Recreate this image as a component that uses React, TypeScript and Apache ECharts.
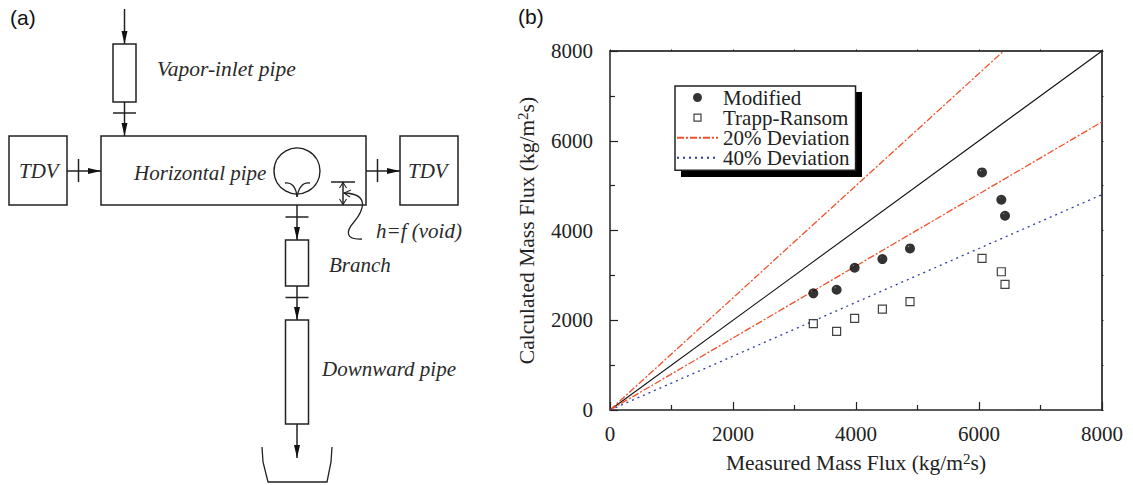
import React, { useEffect, useRef } from "react";
import * as echarts from "echarts";

const measuredModified = [3306, 3685, 3978, 4429, 4878, 6049, 6363, 6423];
const calculatedModified = [2600, 2680, 3170, 3363, 3600, 5294, 4685, 4328];
const measuredTrapp = [3306, 3685, 3978, 4429, 4878, 6049, 6363, 6423];
const calculatedTrapp = [1923, 1752, 2042, 2249, 2413, 3378, 3081, 2799];
const identityLine = [[0, 0], [8000, 8000]];
const upperDeviation = [[0, 0], [6400, 8000]];
const lowerDeviation = [[0, 0], [8000, 6420]];
const fortyDeviation = [[0, 0], [8000, 4800]];

const serif = "'Liberation Serif', serif";
const ink = "#222";

const zip = (a: number[], b: number[]) => a.map((v, i) => [v, b[i]]);

const arrow = (x: number, y: number, dir: "down" | "right") =>
  dir === "down"
    ? { type: "polygon", shape: { points: [[x - 3, y - 13], [x + 3, y - 13], [x, y]] }, style: { fill: "#111" } }
    : { type: "polygon", shape: { points: [[x - 13, y - 3], [x - 13, y + 3], [x, y]] }, style: { fill: "#111" } };
const ln = (x1: number, y1: number, x2: number, y2: number) => ({
  type: "line",
  shape: { x1, y1, x2, y2 },
  style: { stroke: "#222", lineWidth: 1.5 },
});
const box = (x: number, y: number, width: number, height: number) => ({
  type: "rect",
  shape: { x, y, width, height },
  style: { fill: "#fff", stroke: "#222", lineWidth: 1.5 },
});
const label = (x: number, y: number, text: string, fontSize = 21) => ({
  type: "text",
  x,
  y,
  style: { text, fill: "#2a2a2a", font: `italic ${fontSize}px ${serif}`, textVerticalAlign: "middle" },
});
const curve = (x1: number, y1: number, cpx1: number, cpy1: number, cpx2: number, cpy2: number, x2: number, y2: number) => ({
  type: "bezierCurve",
  shape: { x1, y1, cpx1, cpy1, cpx2, cpy2, x2, y2 },
  style: { stroke: "#222", lineWidth: 1.3, fill: "none" },
});

const diagram: any[] = [
  { type: "text", x: 10, y: 17, style: { text: "(a)", fill: "#111", font: "21px 'Liberation Sans', sans-serif", textVerticalAlign: "middle" } },
  { type: "text", x: 518, y: 16, style: { text: "(b)", fill: "#111", font: "21px 'Liberation Sans', sans-serif", textVerticalAlign: "middle" } },
  ln(124.5, 9, 124.5, 44), arrow(124.5, 44, "down"),
  box(113, 44, 23, 58),
  ln(124.5, 102, 124.5, 136), ln(113, 113, 136, 113), arrow(124.5, 136, "down"),
  box(101, 136, 265, 69),
  box(9, 136, 58, 69),
  box(400, 136, 58, 69),
  ln(67, 171, 101, 171), ln(78.5, 159, 78.5, 182), arrow(101, 171, "right"),
  ln(366, 171, 400, 171), ln(377.5, 159, 377.5, 182), arrow(400, 171, "right"),
  { type: "circle", shape: { cx: 297, cy: 171, r: 23 }, style: { fill: "none", stroke: "#222", lineWidth: 1.4 } },
  curve(285, 183, 291, 182, 296, 186, 297, 197),
  curve(310, 183, 304, 182, 299, 186, 297, 197),
  ln(331, 182, 355, 182),
  ln(343, 182, 343, 205),
  { type: "polyline", shape: { points: [[339.5, 188], [343, 182.5], [346.5, 188]] }, style: { stroke: "#222", lineWidth: 1.1, fill: "none" } },
  { type: "polyline", shape: { points: [[339.5, 199], [343, 204.5], [346.5, 199]] }, style: { stroke: "#222", lineWidth: 1.1, fill: "none" } },
  curve(344, 193, 372, 194, 362, 212, 354, 222),
  curve(354, 222, 345, 232, 346, 240, 362, 239),
  { type: "polyline", shape: { points: [[351, 190], [344, 193], [350, 197]] }, style: { stroke: "#222", lineWidth: 1.1, fill: "none" } },
  ln(297, 205, 297, 240), ln(285.5, 217, 308.5, 217), arrow(297, 240, "down"),
  box(285.5, 240, 23, 46),
  ln(297, 286, 297, 320), ln(285.5, 297.5, 308.5, 297.5), arrow(297, 320, "down"),
  box(285.5, 320, 23, 104),
  ln(297, 424, 297, 458), arrow(297, 458, "down"),
  { type: "polyline", shape: { points: [[262, 447], [263, 462], [268, 482], [327, 482], [331, 462], [332, 447]] }, style: { stroke: "#222", lineWidth: 1.3, fill: "none" } },
  label(157, 69, "Vapor-inlet pipe", 21.5),
  label(19, 171, "TDV"),
  label(134, 173, "Horizontal pipe"),
  label(408, 171, "TDV"),
  label(376, 231, "h=f (void)"),
  label(329, 265, "Branch"),
  label(322, 369, "Downward pipe"),
  { type: "rect", z: 3, shape: { x: 681, y: 92, width: 181, height: 85 }, style: { fill: "#000" } },
];

const ballIcon = "path://M0 0L0 0M41 20L41 20M25 10a4.5 4.5 0 1 0 -9 0a4.5 4.5 0 1 0 9 0Z";
const squareIcon = "path://M0 0L0 0M41 20L41 20M17 6.5H24V13.5H17Z";

export default function App() {
  const ref = useRef<HTMLDivElement>(null);
  useEffect(() => {
    const chart = echarts.init(ref.current!, undefined, { renderer: "svg" });
    const ball = new echarts.graphic.RadialGradient(0.36, 0.3, 0.55, [
      { offset: 0, color: "#aaaaaa" },
      { offset: 0.12, color: "#111" },
      { offset: 0.3, color: "#000" },
      { offset: 1, color: "#000" },
    ]);
    const axisCommon = {
      type: "value",
      min: 0,
      max: 8000,
      interval: 2000,
      nameLocation: "middle",
      splitLine: { show: false },
      axisLine: { show: true, onZero: false, lineStyle: { color: "#222", width: 1.5 } },
      axisTick: { show: true, inside: true, length: 8, lineStyle: { color: "#222", width: 1.2 } },
      minorTick: { show: true, splitNumber: 2, length: 5, lineStyle: { color: "#222", width: 1.2 } },
      minorSplitLine: { show: false },
    };
    const rich = {
      a: { fontFamily: serif, fontSize: 21.5, color: ink },
      s: { fontFamily: serif, fontSize: 15, color: ink, padding: [0, 0, 9, 0] },
    };
    const plain = (v: number) => String(v);
    const mirror = {
      ...axisCommon,
      axisLabel: { show: false },
      axisLine: { show: true, onZero: false, lineStyle: { color: "#444", width: 2 } },
      axisTick: { show: true, inside: false, length: 1.5, lineStyle: { color: "#222", width: 1 } },
      minorTick: { show: true, splitNumber: 2, length: 1.5, lineStyle: { color: "#222", width: 1 } },
    };
    const hiddenSymbol = { color: "transparent", borderWidth: 0, opacity: 0 };
    chart.setOption({
      animation: false,
      backgroundColor: "#fff",
      textStyle: { fontFamily: serif },
      grid: { left: 610, right: 31, top: 51, bottom: 75, show: false },
      xAxis: [
        {
          ...axisCommon,
          name: "{a|Measured Mass Flux (kg/m}{s|2}{a|s)}",
          nameGap: 41,
          nameTextStyle: { rich },
          axisLabel: { fontFamily: serif, fontSize: 21, color: ink, margin: 13, formatter: plain },
        },
        { ...mirror, position: "top" },
      ],
      yAxis: [
        {
          ...axisCommon,
          name: "{a|Calculated Mass Flux (kg/m}{s|2}{a|s)}",
          nameGap: 71,
          nameTextStyle: { rich },
          axisLabel: { fontFamily: serif, fontSize: 21, color: ink, margin: 17, formatter: plain },
        },
        { ...mirror, position: "right" },
      ],
      legend: {
        left: 675,
        top: 86,
        orient: "vertical",
        padding: [1, 6, 2, 1],
        itemGap: -1,
        itemWidth: 41,
        itemHeight: 20,
        backgroundColor: "#fff",
        borderColor: "#222",
        borderWidth: 1.5,
        textStyle: { fontFamily: serif, fontSize: 21, lineHeight: 20, height: 20, color: ink },
        data: [
          { name: "Modified", icon: ballIcon, itemStyle: { color: "#000", borderWidth: 0 } },
          { name: "Trapp-Ransom", icon: squareIcon, itemStyle: { color: "#fff", borderColor: "#111", borderWidth: 1.2 } },
          { name: "20% Deviation", itemStyle: hiddenSymbol },
          { name: "40% Deviation", itemStyle: hiddenSymbol },
        ],
      },
      graphic: { elements: diagram },
      series: [
        {
          name: "identity",
          type: "line",
          data: identityLine,
          symbol: "none",
          lineStyle: { color: "#111", width: 1.1 },
          silent: true,
        },
        {
          name: "20% Deviation",
          type: "line",
          data: upperDeviation,
          symbol: "none",
          lineStyle: { color: "#f0502a", width: 1.3, type: [7, 2, 2, 2] },
        },
        {
          name: "20% Deviation",
          type: "line",
          data: lowerDeviation,
          symbol: "none",
          lineStyle: { color: "#f0502a", width: 1.3, type: [7, 2, 2, 2] },
        },
        {
          name: "40% Deviation",
          type: "line",
          data: fortyDeviation,
          symbol: "none",
          lineStyle: { color: "#2a3aa8", width: 1.3, type: [2, 4] },
        },
        {
          name: "Modified",
          type: "scatter",
          data: zip(measuredModified, calculatedModified),
          symbol: "circle",
          symbolSize: 10,
          itemStyle: { color: ball },
          z: 5,
        },
        {
          name: "Trapp-Ransom",
          type: "scatter",
          data: zip(measuredTrapp, calculatedTrapp),
          symbol: "rect",
          symbolSize: 8,
          itemStyle: { color: "#fff", borderColor: "#111", borderWidth: 1.2 },
          z: 5,
        },
      ],
    });
    return () => chart.dispose();
  }, []);
  return (
    <div style={{ position: "fixed", left: 0, top: 0, width: 1133, height: 485 }}>
      <div ref={ref} style={{ width: 1133, height: 485 }} />
    </div>
  );
}
